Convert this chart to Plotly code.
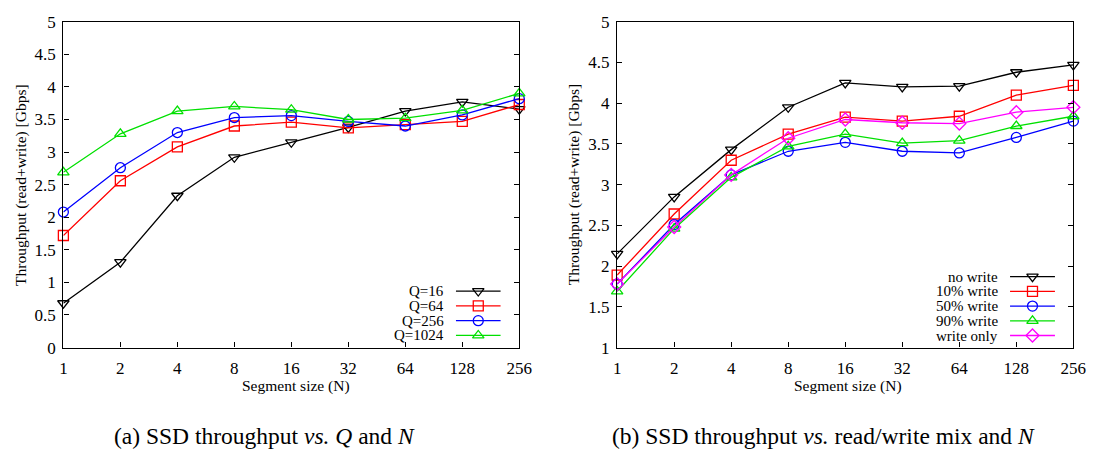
import plotly.graph_objects as go
import math

W, H = 1109, 456

# ---------------- data ----------------
seg_sizes = [1, 2, 4, 8, 16, 32, 64, 128, 256]
seg_labels = ["1", "2", "4", "8", "16", "32", "64", "128", "256"]

# (a) throughput vs Q and N
q16 = [0.68, 1.31, 2.33, 2.92, 3.15, 3.38, 3.63, 3.77, 3.66]
q64 = [1.72, 2.56, 3.08, 3.40, 3.46, 3.37, 3.42, 3.47, 3.73]
q256 = [2.08, 2.76, 3.30, 3.53, 3.56, 3.47, 3.40, 3.57, 3.82]
q1024 = [2.69, 3.28, 3.63, 3.70, 3.65, 3.50, 3.52, 3.64, 3.90]

# (b) throughput vs read/write mix and N
no_write = [2.15, 2.85, 3.43, 3.95, 4.25, 4.20, 4.21, 4.38, 4.47]
w10 = [1.89, 2.64, 3.30, 3.62, 3.83, 3.78, 3.84, 4.10, 4.22]
w50 = [1.78, 2.51, 3.12, 3.41, 3.52, 3.41, 3.39, 3.58, 3.78]
w90 = [1.69, 2.46, 3.09, 3.47, 3.62, 3.51, 3.54, 3.72, 3.84]
w_only = [1.78, 2.48, 3.12, 3.57, 3.80, 3.76, 3.75, 3.89, 3.95]

ya_ticks = [0, 0.5, 1, 1.5, 2, 2.5, 3, 3.5, 4, 4.5, 5]
ya_labels = ["0", "0.5", "1", "1.5", "2", "2.5", "3", "3.5", "4", "4.5", "5"]
yb_ticks = [1, 1.5, 2, 2.5, 3, 3.5, 4, 4.5, 5]
yb_labels = ["1", "1.5", "2", "2.5", "3", "3.5", "4", "4.5", "5"]

series_a = [
    ("Q=16", q16, "#000000", "triangle-down-open"),
    ("Q=64", q64, "#ff0000", "square-open"),
    ("Q=256", q256, "#0000ff", "circle-open"),
    ("Q=1024", q1024, "#00e000", "triangle-up-open"),
]
series_b = [
    ("no write", no_write, "#000000", "triangle-down-open"),
    ("10% write", w10, "#ff0000", "square-open"),
    ("50% write", w50, "#0000ff", "circle-open"),
    ("90% write", w90, "#00e000", "triangle-up-open"),
    ("write only", w_only, "#ff00ff", "diamond-open"),
]

FONT = "Liberation Serif"

# ---------------- layout geometry (pixels) ----------------
LA = (60.3, 523.3)
RB = (622.7, 1086.0)
TOP, BOT = 13.3, 353.3


def px(x):
    return x / W


def py(y):
    return 1 - y / H


fig = go.Figure()

for name, ys, col, sym in series_a:
    fig.add_trace(go.Scatter(
        x=seg_sizes, y=ys, mode="lines+markers", name=name,
        line=dict(color=col, width=1.3),
        marker=dict(symbol=sym, size=10, color=col, line=dict(width=1.3, color=col)),
        xaxis="x", yaxis="y", showlegend=False, cliponaxis=False))

for name, ys, col, sym in series_b:
    fig.add_trace(go.Scatter(
        x=seg_sizes, y=ys, mode="lines+markers", name=name,
        line=dict(color=col, width=1.3),
        marker=dict(symbol=sym, size=10, color=col, line=dict(width=1.3, color=col)),
        xaxis="x2", yaxis="y2", showlegend=False, cliponaxis=False))

# ---------------- gnuplot-style keys (text right, sample on right) ----------------
annotations = []


def add_key(entries, y0, dy, text_right, line_x0, line_x1):
    for i, (name, _, col, sym) in enumerate(entries):
        yy = y0 + i * dy
        annotations.append(dict(
            text=name, x=px(text_right), y=py(yy), xref="paper", yref="paper",
            xanchor="right", yanchor="middle", showarrow=False,
            font=dict(family=FONT, size=15, color="#000000")))
        fig.add_trace(go.Scatter(
            x=[line_x0, line_x1], y=[yy, yy], mode="lines",
            line=dict(color=col, width=1.3), xaxis="x3", yaxis="y3",
            showlegend=False, hoverinfo="skip"))
        fig.add_trace(go.Scatter(
            x=[(line_x0 + line_x1) / 2], y=[yy], mode="markers",
            marker=dict(symbol=sym, size=10, color=col, line=dict(width=1.3, color=col)),
            xaxis="x3", yaxis="y3", showlegend=False, hoverinfo="skip"))


add_key(series_a, 294.3, 15.45, 449, 459, 504.3)
add_key(series_b, 279.3, 15.35, 1012, 1021.7, 1067.3)

# axis titles and captions
for xc in (16.5, 578.5):
    annotations.append(dict(
        text="Throughput (read+write) [Gbps]", x=px(xc), y=py((TOP + BOT) / 2),
        xref="paper", yref="paper", textangle=-90, showarrow=False,
        xanchor="center", yanchor="middle",
        font=dict(family=FONT, size=15.5, color="#000000")))
for xc in (296.5, 857.5):
    annotations.append(dict(
        text="Segment size (N)", x=px(xc), y=py(393), xref="paper", yref="paper",
        showarrow=False, xanchor="center", yanchor="middle",
        font=dict(family=FONT, size=15.5, color="#000000")))
annotations.append(dict(
    text="(a) SSD throughput <i>vs.</i> <i>Q</i> and <i>N</i>", x=px(265), y=py(446),
    xref="paper", yref="paper", showarrow=False, xanchor="center", yanchor="middle",
    font=dict(family=FONT, size=23.5, color="#000000")))
annotations.append(dict(
    text="(b) SSD throughput <i>vs.</i> read/write mix and <i>N</i>", x=px(832), y=py(446),
    xref="paper", yref="paper", showarrow=False, xanchor="center", yanchor="middle",
    font=dict(family=FONT, size=23.5, color="#000000")))

tickfont = dict(family=FONT, size=17, color="#000000")

xcommon = dict(
    type="log", range=[0, math.log10(256)], tickvals=seg_sizes, ticktext=seg_labels,
    ticks="inside", ticklen=5, tickwidth=1, tickcolor="#000000",
    showline=True, linecolor="#000000", linewidth=1.3, mirror=True,
    showgrid=False, zeroline=False, tickfont=tickfont, fixedrange=True,
    ticklabelstandoff=5)

ycommon = dict(
    ticks="inside", ticklen=5, tickwidth=1, tickcolor="#000000",
    showline=True, linecolor="#000000", linewidth=1.3, mirror="ticks",
    showgrid=False, zeroline=False, tickfont=tickfont, fixedrange=True,
    ticklabelstandoff=3)

fig.update_layout(
    width=W, height=H, margin=dict(l=0, r=0, t=0, b=0),
    paper_bgcolor="#ffffff", plot_bgcolor="rgba(0,0,0,0)",
    font=dict(family=FONT),
    showlegend=False,
    xaxis=dict(domain=[px(LA[0]), px(LA[1])], anchor="y", **xcommon),
    yaxis=dict(domain=[py(BOT), py(TOP)], anchor="x", range=[0, 5],
               tickvals=ya_ticks, ticktext=ya_labels, **ycommon),
    xaxis2=dict(domain=[px(RB[0]), px(RB[1])], anchor="y2", **xcommon),
    yaxis2=dict(domain=[py(BOT), py(TOP)], anchor="x2", range=[1, 5],
                tickvals=yb_ticks, ticktext=yb_labels, **ycommon),
    xaxis3=dict(domain=[0, 1], range=[0, W], visible=False, anchor="y3", fixedrange=True),
    yaxis3=dict(domain=[0, 1], range=[H, 0], visible=False, anchor="x3", fixedrange=True),
    annotations=annotations,
)

fig.write_html("out.html")
